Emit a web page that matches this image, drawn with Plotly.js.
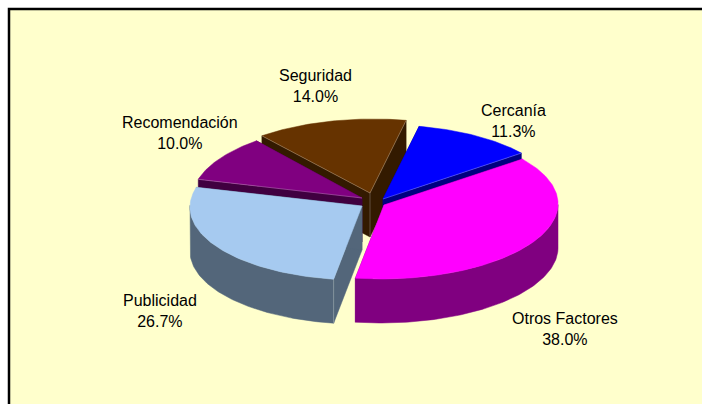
<!DOCTYPE html>
<html><head><meta charset="utf-8">
<script src="https://cdn.plot.ly/plotly-3.0.1.min.js"></script>
<style>html,body{margin:0;padding:0;background:#fff}</style></head>
<body><div id="chart" style="width:702px;height:404px"></div>
<script>
const categories = ["Cercanía","Otros Factores","Publicidad","Recomendación","Seguridad"];
const shares = [11.3,38.0,26.7,10.0,14.0];
const topColors = ["#0000ff","#ff00ff","#a6caf0","#800080","#663300"];
const wallColors = ["#000080","#800080","#53667a","#400040","#331a00"];
const apexX = [383,384,362,362,370];
const apexY = [199,205,206,198,193];
const radiusX = [174,174,172,170,174];
const labelX = [513,565,160,180,315];
const labelY = [121,329,311,133,85.5];
const drawOrder = [4,0,3,1,2];
const highlightA0 = [false,false,false,true,true];
const highlightA1 = [true,false,false,false,true];
const startAngle = 79, ry = 74, depth = 44, shear = 3;

const rad = d => d*Math.PI/180;
const traces = [];
function poly(xs, ys, color){
  traces.push({type:'scatter',mode:'lines',x:[...xs,xs[0]],y:[...ys,ys[0]],fill:'toself',fillcolor:color,
    line:{color:color,width:0.5},hoverinfo:'skip',showlegend:false});
}
function hair(xs, ys){
  traces.push({type:'scatter',mode:'lines',x:xs,y:ys,line:{color:'rgba(255,255,255,0.35)',width:0.7},hoverinfo:'skip',showlegend:false});
}
let a = startAngle; const spans = [];
shares.forEach(v=>{const s=v/100*360; spans.push([a,a-s]); a-=s;});
drawOrder.forEach(i=>{
  const [a0,a1]=spans[i], cx=apexX[i], cy=apexY[i], rx=radiusX[i];
  const px=t=>cx+rx*Math.cos(rad(t))+shear*Math.sin(rad(t)), py=t=>cy-ry*Math.sin(rad(t));
  poly([cx,px(a0),px(a0),cx],[cy,py(a0),py(a0)+depth,cy+depth],wallColors[i]);
  poly([cx,px(a1),px(a1),cx],[cy,py(a1),py(a1)+depth,cy+depth],wallColors[i]);
  const ts=[]; for(let t=a0;t>a1;t-=1) ts.push(t); ts.push(a1);
  const front=ts.filter(t=>Math.sin(rad(t))<=0.02);
  if(front.length>1){
    poly([...front.map(px),...front.slice().reverse().map(px)],
         [...front.map(py),...front.slice().reverse().map(t=>py(t)+depth)],wallColors[i]);
  }
  poly([cx,...ts.map(px)],[cy,...ts.map(py)],topColors[i]);
  if(highlightA0[i]) hair([cx,px(a0)],[cy,py(a0)]);
  if(highlightA1[i]) hair([cx,px(a1)],[cy,py(a1)]);
  if(i===2) hair([px(a0),px(a0)],[py(a0),py(a0)+depth]);
  if(i===4) hair([cx,cx],[cy,cy+depth]);
});
const annotations = categories.map((c,i)=>({x:labelX[i],y:labelY[i],xref:'x',yref:'y',
  text:c+'<br>'+shares[i].toFixed(1)+'%',showarrow:false,align:'center',
  font:{family:'Liberation Sans, Arial, sans-serif',size:16,color:'#000'}}));
Plotly.newPlot('chart',traces,{
  width:702,height:404,margin:{l:0,r:0,t:0,b:0},paper_bgcolor:'#ffffff',plot_bgcolor:'#ffffff',
  xaxis:{range:[0,702],visible:false,fixedrange:true},
  yaxis:{range:[404,0],visible:false,fixedrange:true},
  showlegend:false,annotations,
  shapes:[{type:'rect',xref:'x',yref:'y',x0:9,y0:9,x1:800,y1:500,fillcolor:'#ffffcc',line:{color:'#000',width:2.5},layer:'below'}]
},{displayModeBar:false,staticPlot:true});
</script></body></html>
